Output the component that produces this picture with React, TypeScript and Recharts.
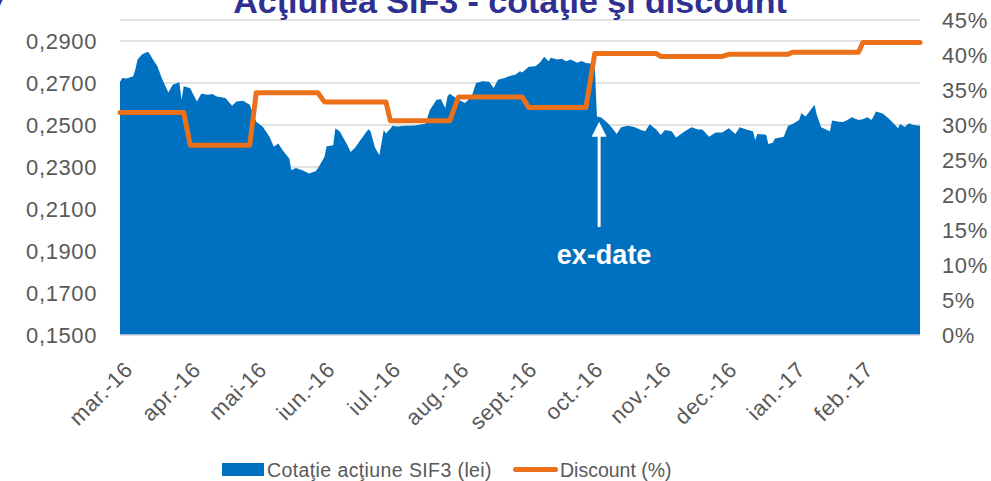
import { ComposedChart, Area, Line, XAxis, YAxis, CartesianGrid, Legend, ReferenceLine, Customized } from "recharts";

const FONT = '"Liberation Sans", Arial, sans-serif';
const BLUE = "#0070C0";
const ORANGE = "#EC7019";
const GREY = "#595959";

// month starts as day offsets from 1 March 2016
const monthStarts = [0, 31, 61, 92, 122, 153, 184, 214, 245, 275, 306, 337];
const monthLabels = ["mar.-16", "apr.-16", "mai-16", "iun.-16", "iul.-16", "aug.-16", "sept.-16", "oct.-16", "nov.-16", "dec.-16", "ian.-17", "feb.-17"];

// monthly discount (share), right axis
const discountByMonth = [0.318, 0.271, 0.346, 0.333, 0.306, 0.34, 0.325, 0.402, 0.398, 0.401, 0.404, 0.418];

// [day, price in lei], left axis
const priceSeries: [number, number][] = [
  [0, 0.2705], [1, 0.2724], [3, 0.2722], [6, 0.2732], [7, 0.2765], [8, 0.2812], [10, 0.2836], [12, 0.2847],
  [13, 0.2846], [15, 0.2812], [17, 0.278], [19, 0.2724], [22, 0.2655], [24, 0.2692], [27, 0.2703], [28, 0.262],
  [29, 0.2684], [32, 0.2675], [33, 0.2652], [35, 0.2612], [37, 0.2649], [40, 0.2644], [42, 0.2648], [44, 0.2636],
  [48, 0.2628], [51, 0.2592], [53, 0.2612], [56, 0.2615], [59, 0.2597], [62, 0.2516], [65, 0.2492], [68, 0.2444],
  [70, 0.2396], [72, 0.2412], [74, 0.238], [77, 0.2341], [78, 0.2285], [80, 0.2295], [83, 0.2285], [86, 0.2269],
  [89, 0.228], [90, 0.2293], [93, 0.2348], [94, 0.2399], [97, 0.2403], [98, 0.2485], [100, 0.2469], [103, 0.2413],
  [105, 0.2372], [107, 0.2393], [110, 0.2437], [113, 0.248], [114, 0.247], [116, 0.2393], [118, 0.2356], [120, 0.2476],
  [121, 0.246], [123, 0.2482], [124, 0.2496], [126, 0.2493], [130, 0.2496], [134, 0.2498], [139, 0.2506], [141, 0.2572],
  [144, 0.262], [146, 0.2623], [148, 0.258], [149, 0.2636], [150, 0.2649], [154, 0.262], [157, 0.2605], [160, 0.2636],
  [162, 0.27], [165, 0.2708], [168, 0.2706], [170, 0.2676], [172, 0.2716], [175, 0.2724], [177, 0.2732], [180, 0.274],
  [182, 0.2756], [183, 0.275], [186, 0.2777], [189, 0.278], [191, 0.2796], [193, 0.2825], [195, 0.2804], [196, 0.282],
  [199, 0.2812], [201, 0.2815], [203, 0.2804], [205, 0.2812], [208, 0.2796], [210, 0.2805], [212, 0.2795], [216, 0.279],
  [217, 0.254], [219, 0.2536], [222, 0.2508], [224, 0.2484], [226, 0.2457], [228, 0.2489], [231, 0.2496], [234, 0.249],
  [237, 0.2476], [239, 0.247], [241, 0.2504], [244, 0.2478], [246, 0.2452], [248, 0.2476], [251, 0.247], [253, 0.2441],
  [257, 0.247], [260, 0.2489], [263, 0.2478], [265, 0.2478], [268, 0.2444], [271, 0.2464], [274, 0.2464], [277, 0.2484],
  [280, 0.2457], [282, 0.2489], [285, 0.2478], [288, 0.247], [289, 0.2428], [290, 0.2457], [294, 0.2454], [295, 0.2409],
  [297, 0.2415], [298, 0.2436], [302, 0.2444], [304, 0.2496], [306, 0.2505], [309, 0.2524], [310, 0.2556], [312, 0.254],
  [316, 0.2596], [317, 0.255], [319, 0.2489], [323, 0.247], [324, 0.2521], [327, 0.2516], [329, 0.2514], [331, 0.2524],
  [333, 0.2537], [336, 0.2524], [338, 0.2527], [340, 0.2537], [342, 0.2524], [344, 0.2564], [347, 0.2555], [350, 0.2529],
  [353, 0.2496], [354, 0.2484], [355, 0.2505], [357, 0.249], [359, 0.2508], [361, 0.25], [364, 0.2496],
];

const leftTicks = [0.15, 0.17, 0.19, 0.21, 0.23, 0.25, 0.27, 0.29];
const rightTicks = [0, 0.05, 0.1, 0.15, 0.2, 0.25, 0.3, 0.35, 0.4, 0.45];

const monthOf = (day: number) => {
  let m = 0;
  monthStarts.forEach((s, i) => {
    if (day >= s) m = i;
  });
  return m;
};

const chartData = priceSeries.map(([day, price]) => ({
  day,
  price,
  discount: discountByMonth[monthOf(day)],
}));

const tickStyle = { fill: GREY, fontSize: 22, fontFamily: FONT, letterSpacing: 0.6 };

function Title() {
  return (
    <g>
      <text x={8} y={13} textAnchor="end" fontSize={34} fontWeight="bold" fill="#2E3192" fontFamily={FONT}>7</text>
      <text x={510} y={13} textAnchor="middle" fontSize={34} fontWeight="bold" fill="#2E3192" fontFamily={FONT}>
        Acţiunea SIF3 - cotaţie şi discount
      </text>
    </g>
  );
}

function ExDateArrow(props: any) {
  const { x1, y1, y2 } = props;
  return (
    <g>
      <line x1={x1} y1={y1 + 14} x2={x1} y2={y2} stroke="#fff" strokeWidth={3} />
      <polygon points={`${x1},${y1} ${x1 - 7.5},${y1 + 15} ${x1 + 7.5},${y1 + 15}`} fill="#fff" />
      <text x={x1 + 5} y={y2 + 37} textAnchor="middle" fill="#fff" fontWeight="bold" fontSize={27} fontFamily={FONT}>
        ex-date
      </text>
    </g>
  );
}

function LegendBox() {
  return (
    <div style={{ position: "relative", height: 24, width: 991, fontFamily: FONT, fontSize: 19.5, color: GREY }}>
      <div style={{ position: "absolute", left: 222, top: 6, width: 42, height: 13, background: BLUE }} />
      <span style={{ position: "absolute", left: 267, top: 1, lineHeight: "24px", whiteSpace: "nowrap", letterSpacing: 0.4 }}>
        Cotaţie acţiune SIF3 (lei)
      </span>
      <div style={{ position: "absolute", left: 513, top: 10, width: 45, height: 5, borderRadius: 3, background: ORANGE }} />
      <span style={{ position: "absolute", left: 560, top: 1, lineHeight: "24px", whiteSpace: "nowrap" }}>
        Discount (%)
      </span>
    </div>
  );
}

export default function App() {
  return (
    <div style={{ position: "absolute", left: 0, top: 0, width: 991, height: 481, background: "#fff" }}>
      <ComposedChart width={991} height={481} data={chartData} margin={{ top: 20, right: 0, left: 0, bottom: 0 }}>
        <CartesianGrid yAxisId="left" vertical={false} stroke="#d9d9d9" strokeWidth={1.5} />
        <XAxis
          dataKey="day"
          type="number"
          domain={[0, 364]}
          ticks={monthStarts}
          interval={0}
          tickFormatter={(d: number) => monthLabels[monthStarts.indexOf(d)]}
          height={122}
          axisLine={{ stroke: "#d9d9d9", strokeWidth: 1.5 }}
          tickLine={false}
          tickMargin={19}
          tick={{ ...tickStyle, angle: -45, textAnchor: "end", dx: 3 }}
        />
        <YAxis
          yAxisId="left"
          type="number"
          domain={[0.15, 0.3]}
          ticks={leftTicks}
          width={120}
          axisLine={false}
          tickLine={false}
          tickMargin={17}
          tick={tickStyle}
          tickFormatter={(v: number) => v.toFixed(4).replace(".", ",")}
        />
        <YAxis
          yAxisId="right"
          orientation="right"
          type="number"
          domain={[0, 0.45]}
          ticks={rightTicks}
          width={71}
          axisLine={false}
          tickLine={false}
          tickMargin={16}
          tick={tickStyle}
          tickFormatter={(v: number) => `${Math.round(v * 100)}%`}
        />
        <Area
          yAxisId="left"
          type="linear"
          dataKey="price"
          name="Cotaţie acţiune SIF3 (lei)"
          fill={BLUE}
          fillOpacity={1}
          stroke="none"
          dot={false}
          activeDot={false}
          isAnimationActive={false}
        />
        <Line
          yAxisId="right"
          type="linear"
          dataKey="discount"
          name="Discount (%)"
          stroke={ORANGE}
          strokeWidth={5}
          strokeLinejoin="round"
          strokeLinecap="round"
          dot={false}
          activeDot={false}
          isAnimationActive={false}
        />
        <ReferenceLine
          yAxisId="left"
          segment={[{ x: 218, y: 0.2516 }, { x: 218, y: 0.2014 }]}
          shape={(p: any) => <ExDateArrow {...p} />}
        />
        <Legend verticalAlign="bottom" content={() => <LegendBox />} />
        <Customized component={Title} />
      </ComposedChart>
    </div>
  );
}
